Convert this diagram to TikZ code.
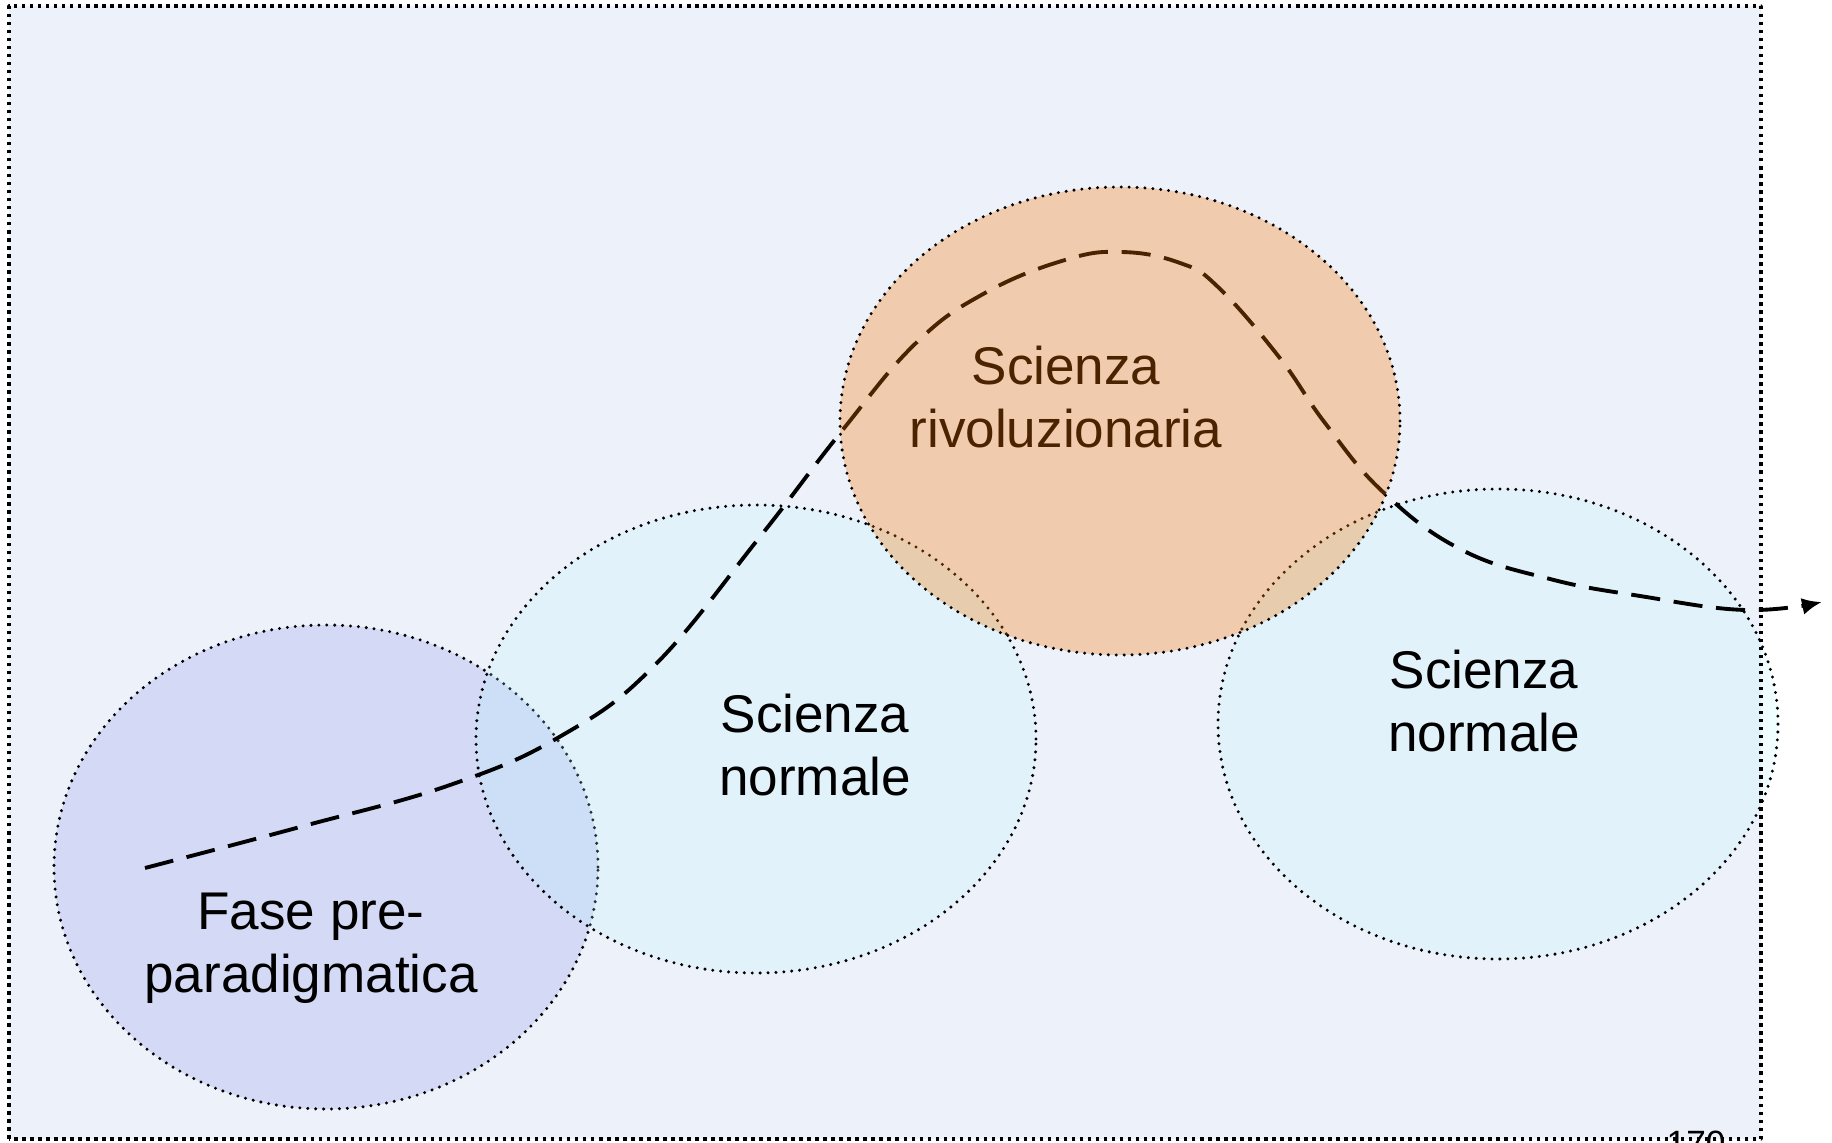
\documentclass[tikz,border=0pt]{standalone}
\usepackage{fontspec}
\setmainfont{Liberation Sans}
\usepackage{tikz}
\usetikzlibrary{arrows.meta}
\definecolor{slidebg}{HTML}{EDF1F9}
\definecolor{prephase}{RGB}{100,110,230}
\definecolor{normalsci}{RGB}{180,250,255}
\definecolor{revsci}{RGB}{250,117,0}
\tikzset{
every picture/.style={line cap=round,line join=round},
phase ellipse/.style={
  draw=black,
  line width=0.95pt,
  dash pattern=on 0pt off 2.25pt
},
pre fill/.style={phase ellipse, fill=prephase, fill opacity=0.18},
normal fill/.style={phase ellipse, fill=normalsci, fill opacity=0.2},
rev fill/.style={phase ellipse, fill=revsci, fill opacity=0.3},
phase label/.style={font=\fontsize{15.1pt}{17.9pt}\selectfont, align=center, inner sep=0pt},
fig path/.style={
  draw=black,
  line width=1.1pt,
  line cap=butt,
  dash pattern=on 8.3pt off 3.9pt,
  -{Latex[length=2mm,width=1.7mm]}
},
slide frame/.style={draw=black, line width=1.05pt, line cap=butt, dash pattern=on 1pt off 1.28pt}
}

\begin{document}
\begin{tikzpicture}[x=0.1mm,y=0.1mm]
\useasboundingbox (0,0) rectangle (1832,1142);
\fill[slidebg] (9,3) rectangle (1761,1136);
% phases
\path[pre fill] (326,275) ellipse [x radius=272, y radius=242];
\path[normal fill] (756,403) ellipse [x radius=280, y radius=234];
\path[normal fill] (1498,418) ellipse [x radius=280, y radius=235];
% trajectory
\coordinate (path start) at (145,274);
\coordinate (path end) at (1822,540);
\draw[fig path] plot[smooth, tension=0.7] coordinates {(path start) (300,315) (450,357) (561,406) (654,476) (759,604) (841,710) (916,799) (985,849) (1065,882) (1122,890) (1180,879) (1218,855) (1279,785) (1325,719) (1383,650) (1460,593) (1550,563) (1640,546) (1745,532) (path end)};
\node[phase label] (pre) at (311,194) {Fase pre-\\paradigmatica};
\node[phase label] (normal1) at (815,397) {Scienza\\normale};
\node[phase label] (normal2) at (1484,441) {Scienza\\normale};
\node[phase label] (rev) at (1066,745) {Scienza\\rivoluzionaria};
\path[rev fill] (1120,721) ellipse [x radius=280, y radius=234];
\draw[slide frame] (9,3) rectangle (1761,1136);
\begin{scope}
\clip (0,0) rectangle (1832,1142);
\node[font=\fontsize{10pt}{12pt}\selectfont, anchor=base, inner sep=0pt] (slide num) at (1696,-13) {170};
\end{scope}
\end{tikzpicture}
\end{document}
